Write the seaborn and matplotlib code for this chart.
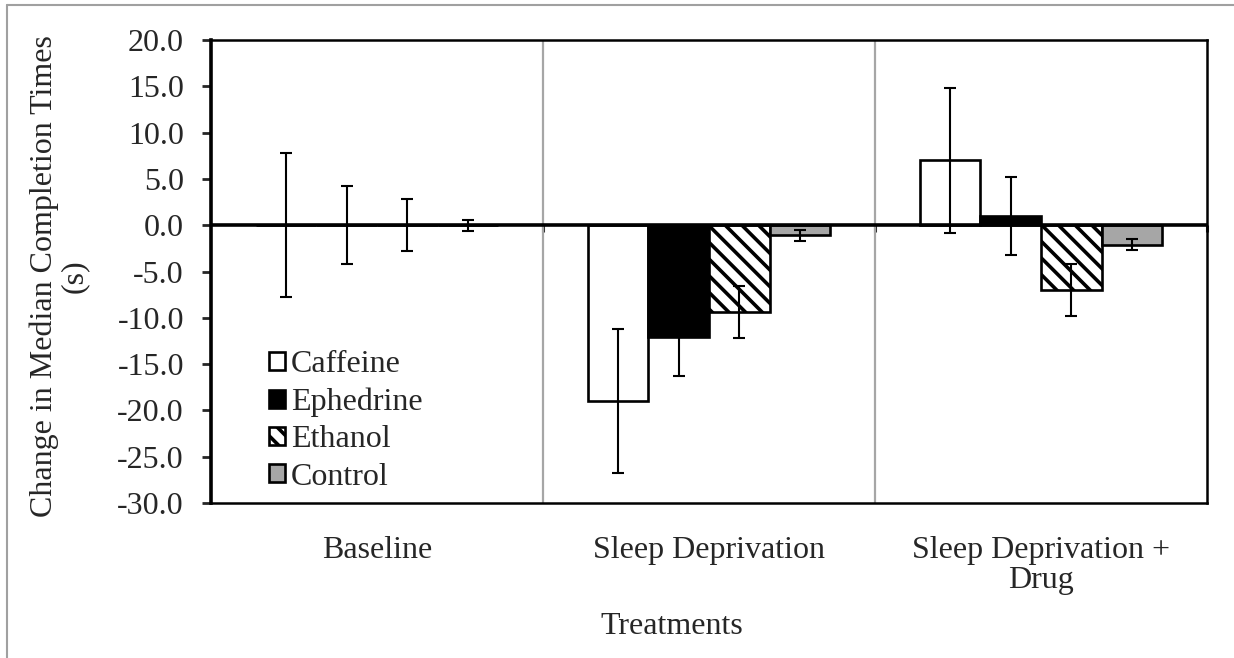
import pandas as pd
import numpy as np
import matplotlib.pyplot as plt
import seaborn as sns
from matplotlib.lines import Line2D

# data
treatments = ["Baseline", "Sleep Deprivation", "Sleep Deprivation +\nDrug"]
drugs = ["Caffeine", "Ephedrine", "Ethanol", "Control"]
baseline = [0.0, 0.0, 0.0, 0.0]
sleep_dep = [-19.0, -12.05, -9.35, -1.1]
sleep_dep_drug = [7.0, 1.0, -7.0, -2.1]
err = [7.8, 4.2, 2.8, 0.6]

rows = []
for t, vals in zip(treatments, [baseline, sleep_dep, sleep_dep_drug]):
    for d, v, e in zip(drugs, vals, err):
        rows.append({"Treatment": t, "Drug": d, "Change": v, "err": e})
data = pd.DataFrame(rows)

sns.set_style("white")
plt.rcParams["font.family"] = ["Liberation Serif", "DejaVu Serif"]
plt.rcParams["hatch.linewidth"] = 2.6
FS = 23

fig = plt.figure(figsize=(12.34, 6.58), dpi=100)
ax = fig.add_axes([211/1234, 155/658, 996/1234, 463/658])

pal = {"Caffeine": "white", "Ephedrine": "black", "Ethanol": "white", "Control": "#a6a6a6"}
sns.barplot(data=data, x="Treatment", y="Change", hue="Drug", order=treatments,
            hue_order=drugs, palette=pal, width=0.73, edgecolor="black",
            linewidth=1.9, errorbar=None, legend=False, ax=ax, zorder=2)

hatches = ["", "", "\\\\", ""]
for cont, h, d in zip(ax.containers, hatches, drugs):
    sub = data[data["Drug"] == d].set_index("Treatment").loc[treatments]
    xs = []
    for p in cont.patches:
        p.set_hatch(h)
        xs.append(p.get_x() + p.get_width() / 2)
    ax.errorbar(xs, sub["Change"].values, yerr=sub["err"].values, fmt="none",
                ecolor="black", elinewidth=1.5, capsize=4.2, capthick=1.5, zorder=4)

ax.set_ylim(-30, 20)
ax.set_xlim(-0.5, 2.5)
ax.set_yticks(np.arange(-30, 20.1, 5))
ax.set_yticklabels([f"{v:.1f}" for v in np.arange(-30, 20.1, 5)], fontsize=FS)
ax.tick_params(axis="y", left=True, direction="out", length=6.5, width=2, pad=13)
ax.tick_params(axis="x", bottom=False, labelsize=FS, pad=20)
for lab in ax.get_xticklabels():
    lab.set_linespacing(1.05)

for x in [0.5, 1.5]:
    ax.axvline(x, color="#a6a6a6", lw=1.6, zorder=1)
ax.axhline(0, color="black", lw=2.6, zorder=3)

for s in ["top", "right", "bottom"]:
    ax.spines[s].set_color("black")
    ax.spines[s].set_linewidth(1.8)
ax.spines["left"].set_color("black")
ax.spines["left"].set_linewidth(2.6)

# tick marks on the zero line
sec = ax.secondary_xaxis(0.6)
sec.set_xticks([0.5, 1.5, 2.5])
sec.tick_params(bottom=True, top=False, direction="out", length=5, width=2.2,
                labelbottom=False, labeltop=False)
sec.spines["bottom"].set_visible(False)
sec.spines["top"].set_visible(False)

ax.set_xlabel("Treatments", fontsize=FS)
ax.xaxis.set_label_coords(0.463, -0.235)
ax.xaxis.label.set_va("top")
ax.set_ylabel("Change in Median Completion Times\n(s)", fontsize=FS, linespacing=1.0)
ax.yaxis.set_label_coords(-0.123, 0.49)

ax.legend(ax.containers, drugs, loc="upper left", bbox_to_anchor=(0.058, 0.33),
          frameon=False, fontsize=FS, handlelength=0.5, handleheight=0.5,
          handletextpad=0.2, labelspacing=0.26, borderaxespad=0, borderpad=0)

fig.add_artist(Line2D([7/1234, 7/1234], [0, 653/658], color="#a0a0a0", lw=1.5))
fig.add_artist(Line2D([7/1234, 1], [653/658, 653/658], color="#a0a0a0", lw=1.5))

plt.savefig("out.png", dpi=100)
